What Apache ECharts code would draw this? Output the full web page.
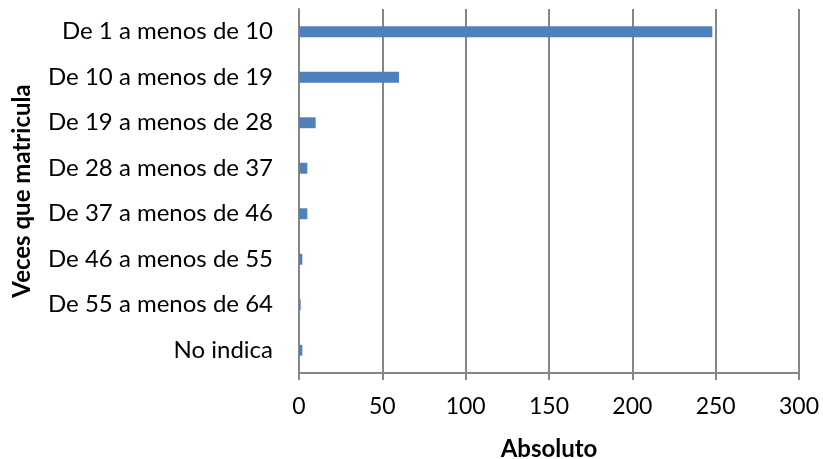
<!DOCTYPE html>
<html>
<head>
<meta charset="utf-8">
<script src="https://cdn.jsdelivr.net/npm/echarts@6/dist/echarts.min.js"></script>
<style>
  html, body { margin: 0; padding: 0; background: #fff; }
  #chart { width: 823px; height: 459px; }
</style>
</head>
<body>
<div id="chart"></div>
<script>
// Number of times the student enrolled, grouped in ranges
const categories = [
  'De 1 a menos de 10',
  'De 10 a menos de 19',
  'De 19 a menos de 28',
  'De 28 a menos de 37',
  'De 37 a menos de 46',
  'De 46 a menos de 55',
  'De 55 a menos de 64',
  'No indica'
];
const absoluteValues = [248, 60, 10, 5, 5, 2, 1, 2];
const xTicks = [0, 50, 100, 150, 200, 250, 300];

const FONT = 'Lato';
const GRID_GREY = '#868686';

const chart = echarts.init(document.getElementById('chart'), null, { renderer: 'canvas' });
chart.setOption({
  animation: false,
  backgroundColor: '#ffffff',
  grid: { left: 299, right: 24, top: 9, bottom: 86, containLabel: false, outerBoundsMode: 'none' },
  xAxis: {
    type: 'value',
    min: xTicks[0],
    max: xTicks[xTicks.length - 1],
    interval: xTicks[1] - xTicks[0],
    name: 'Absoluto',
    nameLocation: 'middle',
    nameGap: 64,
    nameTextStyle: { fontFamily: FONT, fontSize: 24, fontWeight: 'bold', color: '#000' },
    axisLine: { show: true, lineStyle: { color: GRID_GREY, width: 2 } },
    axisTick: { show: true, length: 7, lineStyle: { color: GRID_GREY, width: 2 } },
    axisLabel: { fontFamily: FONT, fontSize: 23, color: '#000', margin: 22 },
    splitLine: { show: true, lineStyle: { color: GRID_GREY, width: 2 } }
  },
  yAxis: {
    type: 'category',
    data: categories,
    inverse: true,
    name: 'Veces que matricula',
    nameLocation: 'middle',
    nameGap: 265,
    nameRotate: 90,
    nameTextStyle: { fontFamily: FONT, fontSize: 24, fontWeight: 'bold', color: '#000' },
    axisLine: { show: true, lineStyle: { color: GRID_GREY, width: 2 } },
    axisTick: { show: false },
    axisLabel: { fontFamily: FONT, fontSize: 24, color: '#000', margin: 26 },
    splitLine: { show: false }
  },
  series: [{
    type: 'bar',
    data: absoluteValues,
    barWidth: '24%',
    itemStyle: { color: '#4F81BD' },
    label: { show: false }
  }]
});
</script>
</body>
</html>
